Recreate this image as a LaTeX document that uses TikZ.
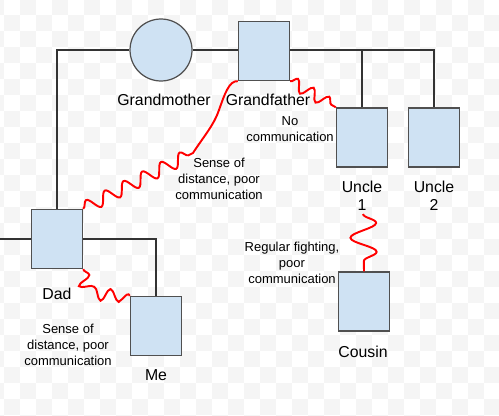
\documentclass[tikz,border=0pt]{standalone}
\usepackage{fontspec}
\setmainfont{Liberation Sans}
\usetikzlibrary{positioning,decorations.pathmorphing}
\definecolor{boxfill}{RGB}{207,226,243}
\definecolor{boxline}{RGB}{80,80,80}
\definecolor{checker}{RGB}{245,245,245}

\tikzset{
  person/.style={draw=boxline,fill=boxfill,line width=0.8pt,minimum width=1.02cm,minimum height=1.18cm,inner sep=0pt},
  female/.style={circle,draw=boxline,fill=boxfill,line width=0.7pt,minimum size=1.24cm,inner sep=0pt},
  kin/.style={draw=black!80,line width=0.7pt},
  strain/.style={draw=red,line width=1.1pt,decoration={snake,segment length=0.42cm,amplitude=0.13cm}},
  personname/.style={font=\fontsize{9}{10.2}\selectfont,align=center},
  relnote/.style={font=\fontsize{7.4}{9}\selectfont,align=center}
}

\begin{document}
\begin{tikzpicture}[x=0.02cm,y=-0.02cm]
    \useasboundingbox (0,0) rectangle (499,415);
    \fill[white] (0,0) rectangle (499,415);
    % faint checkerboard
    \begin{scope}
      \clip (0,0) rectangle (499,415);
      \foreach \i in {-1,...,31}{
        \foreach \j in {0,...,26}{
          \pgfmathtruncatemacro\cellodd{mod(\i+\j+2,2)}
          \ifnum\cellodd=1 \fill[checker] (4+16*\i,16*\j-1) rectangle ++(16,16);\fi
        }
      }
    \end{scope}

    % people
    \node[female] (gm) at (161,50) {};
    \node[person] (gf) at (264,51) {};
    \node[person] (uncleA) at (362,137.5) {};
    \node[person] (uncleB) at (434,137.5) {};
    \node[person] (dad) at (57,239) {};
    \node[person] (me) at (156,326) {};
    \node[person] (cousin) at (364,301.5) {};

    % family lines
    \coordinate (leftend) at (0,239);
    \draw[kin] (dad.north) |- (gm.west);
    \draw[kin] (gm.east) -- (gf.west |- gm.east);
    \draw[kin] (gf.east |- gm.east) -| (uncleB.north);
    \draw[kin] (uncleA.north) -- (uncleA.north |- gm.east);
    \draw[kin] (leftend) -- (dad.west);
    \draw[kin] (dad.east) -| (me.north);

    % names
    \node[personname] (gmname) at (164,100) {Grandmother};
    \node[personname] (gfname) at (268,100) {Grandfather};
    \node[personname] (uncleAname) at (362,196) {Uncle\\1};
    \node[personname] (uncleBname) at (434,196) {Uncle\\2};
    \node[personname] (dadname) at (57,294) {Dad};
    \node[personname] (mename) at (156,375) {Me};
    \node[personname] (cousinname) at (363,352) {Cousin};

    % strained relations
    \draw[strain] decorate {(dad.north east) -- (193,153)}
      .. controls (204,136) and (214,125) .. (219,110)
      .. controls (224,96) and (229,80) .. (gf.south west);
    \draw[strain,decoration={segment length=0.36cm,amplitude=0.12cm}] decorate {(gf.south east) -- (uncleA.north west)};
    \draw[strain,decoration={segment length=0.38cm,amplitude=0.12cm}] decorate {(dad.south east) .. controls (84,302) and (110,282) .. (me.north west)};
    \coordinate (fightend) at (363,214);
    \draw[strain,decoration={segment length=0.58cm,amplitude=0.26cm}] decorate {(fightend) -- (cousin.north)};

    % notes
    \node[relnote] (gfnote) at (290,129) {No\\communication};
    \node[relnote] (dadgfnote) at (219,179) {Sense of\\distance, poor\\communication};
    \node[relnote] (dadmenote) at (68,345) {Sense of\\distance, poor\\communication};
    \node[relnote] (fightnote) at (292,263) {Regular fighting,\\poor\\communication};
\end{tikzpicture}
\end{document}
